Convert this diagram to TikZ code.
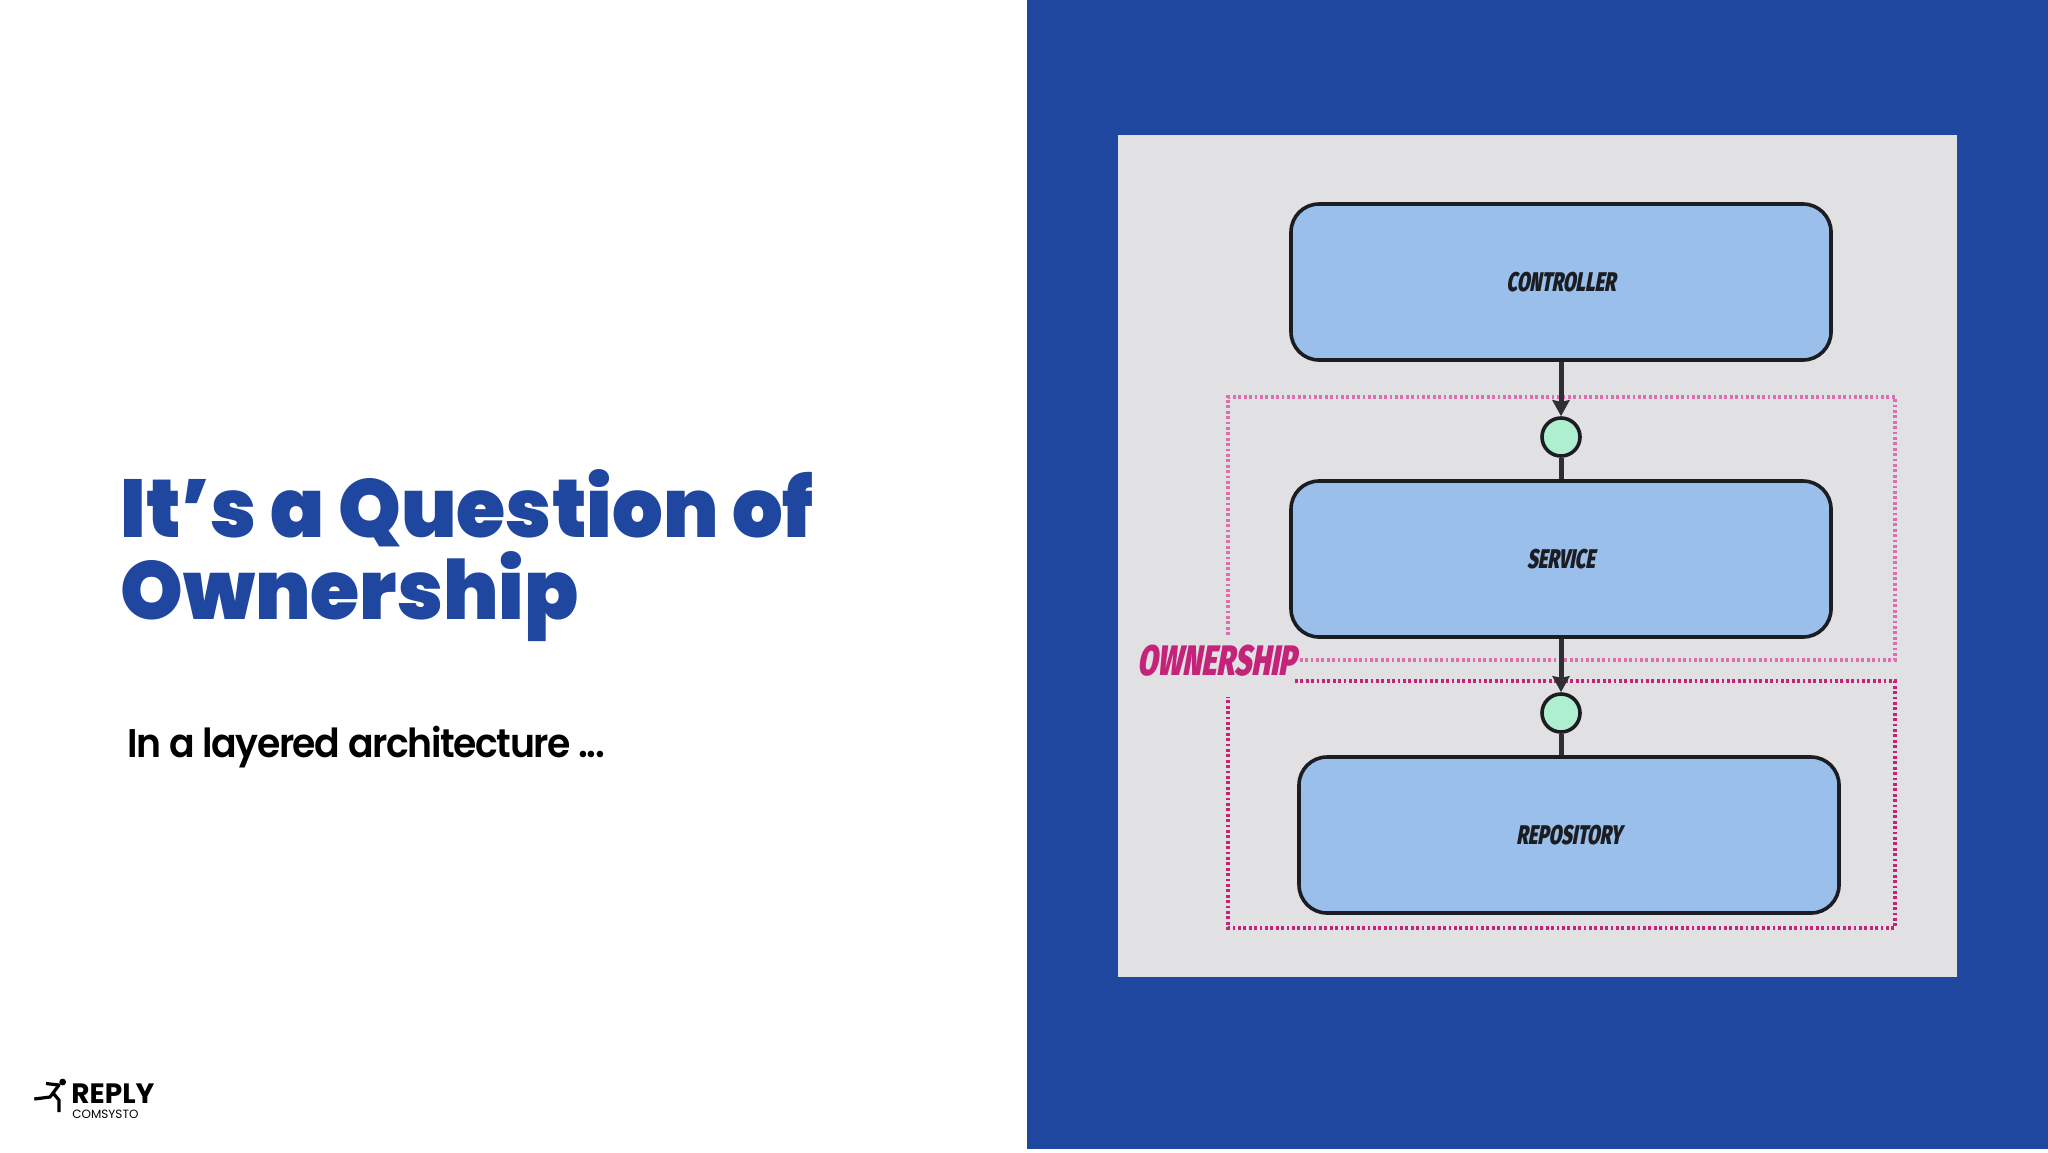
\documentclass[tikz,border=0pt]{standalone}
\usepackage{fontspec}
\usetikzlibrary{positioning, arrows.meta}
\setmainfont{Poppins}
\newfontfamily\titlefont{Poppins}[UprightFont=* Black, FakeStretch=0.972]
\newfontfamily\subfont{Poppins}[UprightFont=* SemiBold, LetterSpace=-3.5, FakeStretch=0.945]
\newfontfamily\sketchfont{Fira Sans}[UprightFont=* Black, FakeSlant=0.18, FakeStretch=0.68]
\definecolor{panelblue}{HTML}{1F47A0}
\definecolor{panelgrey}{HTML}{E1E1E3}
\definecolor{boxblue}{HTML}{99BFEA}
\definecolor{dotgreen}{HTML}{AEEFD0}
\definecolor{inkdark}{HTML}{1B1D22}
\definecolor{wirecol}{HTML}{2F2F33}
\definecolor{ownpink}{HTML}{C4237A}
\definecolor{ownlight}{HTML}{DE6DB4}
\tikzset{
    layerbox/.style={draw=inkdark, fill=boxblue, line width=1.8pt, rounded corners=14pt,
        minimum width=270pt, minimum height=78pt, font=\sketchfont\fontsize{13.5}{13.5}\selectfont, text=inkdark},
    portdot/.style={circle, draw=inkdark, fill=dotgreen, line width=1.8pt, minimum size=19pt, inner sep=0pt},
    wire/.style={draw=wirecol, line width=2.5pt},
    owndots/.style={line width=1.6pt, dash pattern=on 1.4pt off 1.3pt},
}
\begin{document}
\begin{tikzpicture}[x=0.5pt, y=-0.5pt]
    \useasboundingbox (0,0) rectangle (2048,1152);
    \fill[white] (0,0) rectangle (2048,1152);
    \fill[panelblue] (1027,0) rectangle (2048,1149);
    \fill[panelgrey] (1117.5,135) rectangle (1957,977);

    % ownership frames
    \draw[owndots, draw=ownlight] (1228,635) -- (1228,397) -- (1895,397) -- (1895,660) -- (1298,660);
    \draw[owndots, draw=ownpink] (1295,681) -- (1895,681) -- (1895,928) -- (1228,928) -- (1228,697);

    \node[layerbox] (controller) at (1561,282) {CONTROLLER};
    \node[layerbox] (service) at (1561,559) {SERVICE};
    \node[layerbox] (repository) at (1569,835) {REPOSITORY};
    \node[portdot] (portone) at (1561,437) {};
    \node[portdot] (porttwo) at (1561,713) {};

    \draw[wire, -{Stealth[length=8pt, width=8.5pt, inset=0.8pt]}] (controller) -- (portone);
    \draw[wire] (portone) -- (service);
    \draw[wire, -{Stealth[length=8pt, width=8.5pt, inset=0.8pt]}] (service) -- (porttwo);
    \draw[wire] (porttwo) -- (porttwo |- repository.north);

    \node[font=\sketchfont\fontsize{21.3}{21.3}\selectfont, text=ownpink, anchor=base west, inner sep=0pt] (ownership) at (1137,675) {OWNERSHIP};

    \node[font=\titlefont\fontsize{41}{41}\selectfont, text=panelblue, align=left, anchor=base west, inner sep=0pt] (title) at (120,619) {It’s a Question of\\Ownership};
    \node[font=\subfont\fontsize{20}{20}\selectfont, text=black, anchor=base west, inner sep=0pt] (subtitle) at (127,757) {In a layered architecture ...};

    % logo
    \fill[black] (62.7,1082) circle (3.4);
    \draw[black, line width=1.6pt, line join=round] (46,1083.5) -- (59,1085) -- (50,1097) -- (34.3,1099);
    \draw[black, line width=1.6pt, line join=round] (53,1093) -- (59,1100) -- (59,1112);
    \node[font=\fontsize{14}{14}\selectfont\bfseries, anchor=base west, inner sep=0pt] (reply) at (71,1103) {REPLY};
    \node[font=\fontsize{6}{6}\selectfont, anchor=base west, inner sep=0pt] (comsysto) at (72,1118) {COMSYSTO};
\end{tikzpicture}
\end{document}
